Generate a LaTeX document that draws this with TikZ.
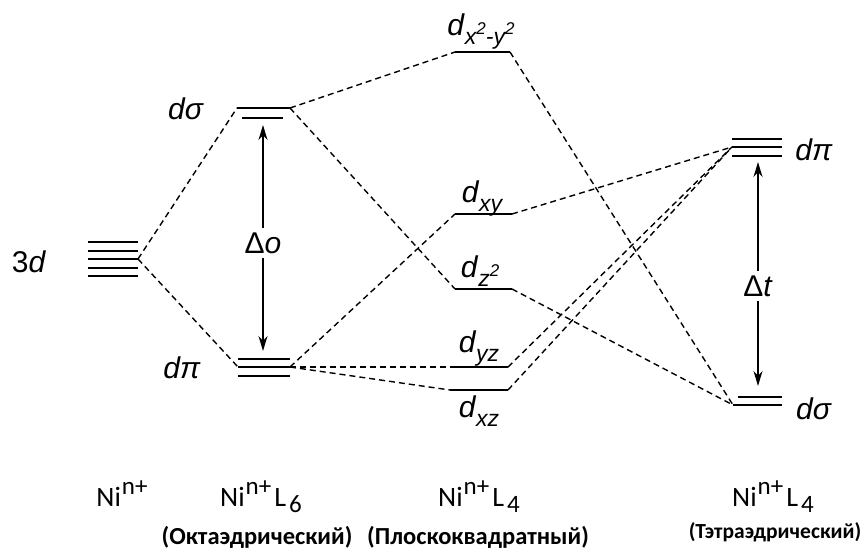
\documentclass[tikz,border=0pt]{standalone}
\usepackage{fontspec}
\setmainfont{Liberation Sans}
\newfontfamily\calfont{Carlito}
\usetikzlibrary{arrows.meta}
\newcommand{\orbl}[1]{\textit{d}\raisebox{-0.3em}{\fontsize{23}{23}\selectfont\itshape #1}}
\newcommand{\sqr}{\raisebox{0.45em}{\fontsize{17}{17}\selectfont\itshape 2}}
\newcommand{\cplx}[1]{Ni\kern1pt\raisebox{0.42em}{\fontsize{25}{25}\selectfont n+}#1}
\newcommand{\lsub}[1]{\kern3pt L\kern3pt\raisebox{-0.22em}{\fontsize{25}{25}\selectfont #1}}
\begin{document}
\begin{tikzpicture}[x=1pt,y=-1pt,
  level/.style={line width=1.9pt},
  conn/.style={line width=1.4pt,dash pattern=on 6pt off 4pt},
  gap/.style={-{Stealth[length=15pt,width=9pt]},line width=1.4pt},
  lbl/.style={font=\fontsize{30}{30}\selectfont,inner sep=1pt},
  cname/.style={font=\calfont\fontsize{28}{28}\selectfont,inner sep=1pt},
  geom/.style={font=\calfont\bfseries\fontsize{24.5}{24.5}\selectfont,inner sep=1pt}]
\useasboundingbox (0,0) rectangle (864,551);
% free ion 3d
\foreach \y/\n in {242/1,251/2,259/3,268/4,276/5}
  \draw[level] (88,\y) -- (138,\y);
\coordinate (fi) at (138,259);
\node[lbl] (l3d) at (29,262) {3\textit{d}};
% octahedral
\coordinate (oSL) at (237,108); \coordinate (oSR) at (290,108);
\draw[level] (oSL) -- (oSR);
\draw[level] (242,118) -- (283,118);
\coordinate (oPL) at (238,367); \coordinate (oPR) at (290,367);
\draw[level] (238,359) -- (290,359);
\draw[level] (oPL) -- (oPR);
\draw[level] (238,376) -- (290,376);
\node[lbl] (lods) at (186,109) {\textit{dσ}};
\node[lbl] (lodp) at (182,368) {\textit{dπ}};
\coordinate (oAT) at (263,125); \coordinate (oAB) at (263,351);
\draw[gap] (263,238) -- (oAT);
\draw[gap] (263,238) -- (oAB);
\node[lbl,fill=white,inner sep=5pt] (ldo) at (263,243) {Δ\textit{o}};
% square planar
\coordinate (x2L) at (455,52); \coordinate (x2R) at (510,52);
\coordinate (xyL) at (455,214); \coordinate (xyR) at (512,214);
\coordinate (z2L) at (455,289); \coordinate (z2R) at (512,289);
\coordinate (yzL) at (450,367); \coordinate (yzR) at (508,367);
\coordinate (xzL) at (450,390); \coordinate (xzR) at (508,390);
\foreach \a in {x2,xy,z2,yz,xz} \draw[level] (\a L) -- (\a R);
\node[lbl] (lx2) at (481,32) {\orbl{x\sqr-y\sqr}};
\node[lbl] (lxy) at (482,199) {\orbl{xy}};
\node[lbl] (lz2) at (480,271) {\orbl{z\sqr}};
\node[lbl] (lyz) at (479,349) {\orbl{yz}};
\node[lbl] (lxz) at (479,411) {\orbl{xz}};
% tetrahedral
\coordinate (tPL) at (732,147); \coordinate (tPR) at (782,147);
\draw[level] (732,139) -- (782,139);
\draw[level] (tPL) -- (tPR);
\draw[level] (732,156) -- (782,156);
\coordinate (tSL) at (733,405); \coordinate (tSR) at (782,405);
\draw[level] (738,397) -- (782,397);
\draw[level] (tSL) -- (tSR);
\node[lbl] (ltp) at (814,150) {\textit{dπ}};
\node[lbl] (lts) at (814,409) {\textit{dσ}};
\coordinate (tAT) at (758,162); \coordinate (tAB) at (758,386);
\draw[gap] (758,283) -- (tAT);
\draw[gap] (758,283) -- (tAB);
\node[lbl,fill=white,inner sep=5pt] (ldt) at (758,286) {Δ\textit{t}};
% connectors
\draw[conn] (fi) -- (oSL);
\draw[conn] (fi) -- (oPL);
\draw[conn] (oSR) -- (x2L);
\draw[conn] (oSR) -- (z2L);
\draw[conn] (oPR) -- (xyL);
\draw[conn] (oPR) -- (yzL);
\draw[conn] (oPR) -- (xzL);
\draw[conn] (x2R) -- (tSL);
\draw[conn] (z2R) -- (tSL);
\draw[conn] (xyR) -- (tPL);
\draw[conn] (yzR) -- (tPL);
\draw[conn] (xzR) -- (tPL);
% bottom labels
\node[cname] (c1) at (122,494) {\cplx{}};
\node[cname] (c2) at (261,497) {\cplx{\lsub{6}}};
\node[cname] (c3) at (479,497) {\cplx{\lsub{4}}};
\node[cname] (c4) at (773,497) {\cplx{\lsub{4}}};
\node[geom] (g2) at (257,537) {(Октаэдрический)};
\node[geom] (g3) at (478,537) {(Плоскоквадратный)};
\node[geom,font=\calfont\bfseries\fontsize{21.5}{21.5}\selectfont] (g4) at (775,532) {(Тэтраэдрический)};
\end{tikzpicture}
\end{document}
